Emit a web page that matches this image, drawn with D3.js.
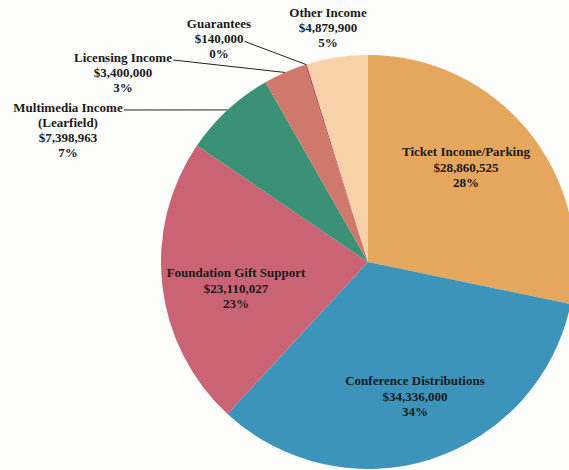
<!DOCTYPE html>
<html>
<head>
<meta charset="utf-8">
<script src="https://cdn.jsdelivr.net/npm/d3@7"></script>
<style>
  body { margin: 0; background: #fdfdfc; }
  .lbl { font-family: "Liberation Serif", "Times New Roman", serif; font-weight: bold; fill: #1a1a1a; }
</style>
</head>
<body>
<div id="chart"></div>
<script>
// revenue sources, clockwise from 12 o'clock
const categories = ['Ticket Income/Parking', 'Conference Distributions', 'Foundation Gift Support',
  'Multimedia Income (Learfield)', 'Licensing Income', 'Guarantees', 'Other Income'];
const nameLines = [['Ticket Income/Parking'], ['Conference Distributions'], ['Foundation  Gift Support'],
  ['Multimedia Income', '(Learfield)'], ['Licensing Income'], ['Guarantees'], ['Other Income']];
const amounts = [28860525, 34336000, 23110027, 7398963, 3400000, 140000, 4879900];
const colors = ['#e5a75e', '#3d94ba', '#ca6475', '#3a9175', '#cf796d', '#b3525c', '#f8d1a8'];

// label placement: inside labels sit near the centroid, outside ones get a leader line
const labelLayout = [
  {inside: true, x: 466, y: 167},
  {inside: true, x: 415, y: 396},
  {inside: true, x: 236, y: 288},
  {inside: false, x: 68, y: 107, lineFrom: 0},
  {inside: false, x: 123, y: 57, lineFrom: 0},
  {inside: false, x: 219, y: 23, lineFrom: 1},
  {inside: false, x: 328, y: 12}
];

const width = 569, height = 470;
const cx = 368, cy = 262, radius = 207;
const lineH = 15.3;

const svg = d3.select('#chart').append('svg')
    .attr('width', width)
    .attr('height', height);

const data = categories.map((c, i) => ({name: c, value: amounts[i], i: i}));
const total = d3.sum(amounts);
const fmtMoney = d3.format('$,');

const pie = d3.pie().sort(null).value(d => d.value);
const arcs = pie(data);

const arc = d3.arc().innerRadius(0).outerRadius(radius);
const edgeArc = d3.arc().innerRadius(radius).outerRadius(radius);

const chart = svg.append('g')
    .attr('transform', `translate(${cx},${cy})`);

chart.selectAll('path.slice')
    .data(arcs)
    .join('path')
    .attr('class', 'slice')
    .attr('d', arc)
    .attr('fill', d => colors[d.data.i]);

// labels
const labels = svg.selectAll('g.label')
    .data(arcs)
    .join('g')
    .attr('class', 'label');

labels.each(function(d) {
  const g = d3.select(this);
  const L = labelLayout[d.data.i];
  const lines = nameLines[d.data.i].concat([
    fmtMoney(d.data.value),
    Math.round(d.data.value / total * 100) + '%'
  ]);
  const n = lines.length;
  const texts = g.selectAll('text')
      .data(lines)
      .join('text')
      .attr('class', 'lbl')
      .attr('text-anchor', 'middle')
      .attr('font-size', '13px')
      .attr('x', L.x)
      .attr('y', (t, k) => L.inside ? L.y + (k - (n - 1) / 2) * lineH + 4.5 : L.y + k * lineH + 4.5)
      .text(t => t);

  if (L.lineFrom !== undefined) {
    const node = texts.nodes()[L.lineFrom];
    const bb = node.getBBox();
    const end = edgeArc.centroid(d);
    g.append('line')
        .attr('x1', bb.x + bb.width + 1)
        .attr('y1', L.y + L.lineFrom * lineH + 3)
        .attr('x2', cx + end[0])
        .attr('y2', cy + end[1])
        .attr('stroke', '#222')
        .attr('stroke-width', 1);
  }
});
</script>
</body>
</html>
